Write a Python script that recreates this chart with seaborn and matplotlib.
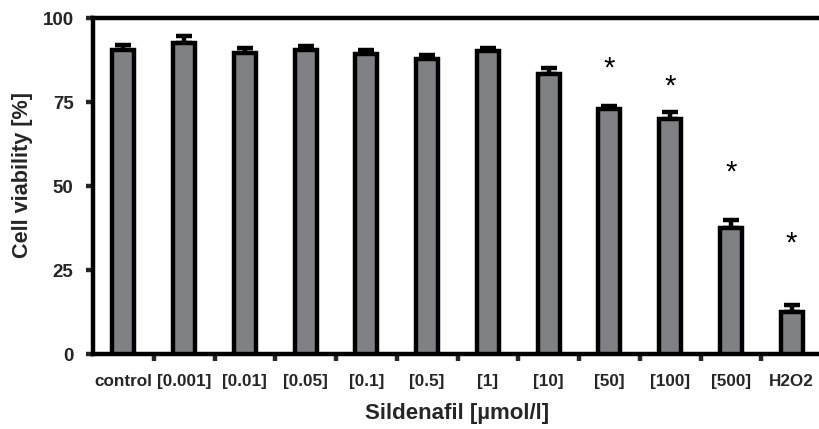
import matplotlib
matplotlib.use("Agg")
import matplotlib.pyplot as plt
import seaborn as sns
import numpy as np
import pandas as pd
from matplotlib.ticker import FixedLocator

categories = ["control", "[0.001]", "[0.01]", "[0.05]", "[0.1]", "[0.5]",
              "[1]", "[10]", "[50]", "[100]", "[500]", "H2O2"]
viability = [90.7, 92.7, 89.8, 90.7, 89.3, 87.8, 90.3, 83.3, 73.1, 70.1, 37.5, 12.7]
sem = [1.5, 2.0, 1.4, 1.0, 1.4, 1.4, 1.0, 2.0, 0.9, 2.0, 2.6, 2.0]
significant = [False, False, False, False, False, False, False, False, True, True, True, True]
yticks = [0, 25, 50, 75, 100]

df = pd.DataFrame({"cat": categories, "val": viability})

sns.set_style("ticks")
plt.rcParams["font.family"] = ["Liberation Sans", "DejaVu Sans"]

W, H = 819, 429
fig = plt.figure(figsize=(W / 100, H / 100), dpi=100)
ax = fig.add_axes([93 / W, 1 - 354.3 / H, (822 - 93) / W, (354.3 - 18.3) / H])

lw = 3.2
sns.barplot(data=df, x="cat", y="val", ax=ax, color="#808185", saturation=1,
            width=0.36, edgecolor="black", linewidth=lw, errorbar=None, zorder=3)

x = np.arange(len(categories))
ax.errorbar(x, viability, yerr=[np.zeros(len(sem)), sem], fmt="none",
            ecolor="black", elinewidth=lw, capsize=5.6, capthick=lw, zorder=2)

star_offset = {8: 11.0, 9: 7.6, 10: 13.9, 11: 18.4}
for i, s in enumerate(significant):
    if s:
        y = viability[i] + sem[i] + star_offset.get(i, 11)
        ax.text(i, y, "*", ha="center", va="center", fontsize=21,
                fontweight="normal", color="black")

ax.set_ylim(0, 100)
ax.set_xlim(-0.5, len(categories) - 0.5)
ax.set_yticks(yticks)
ax.set_yticklabels([str(t) for t in yticks], fontsize=13.5, fontweight="bold")
ax.set_xticks(x)
ax.set_xticklabels(categories, fontsize=12.3, fontweight="bold")
ax.tick_params(axis="x", which="major", length=0, pad=14)
ax.xaxis.set_minor_locator(FixedLocator(np.arange(0.5, len(categories) - 0.5, 1.0)))
ax.tick_params(axis="x", which="minor", length=5, width=lw, direction="out")
ax.tick_params(axis="y", length=5, width=lw, direction="out", pad=9)

for side in ["left", "bottom", "top", "right"]:
    ax.spines[side].set_linewidth(lw)
    ax.spines[side].set_color("black")
    ax.spines[side].set_visible(True)

ax.set_xlabel("Sildenafil [µmol/l]", fontsize=16, fontweight="bold", labelpad=10)
ax.set_ylabel("Cell viability [%]", fontsize=15.6, fontweight="bold")
ax.yaxis.set_label_coords(-60 / (822 - 93), (354.3 - 175) / (354.3 - 18.3))

fig.savefig("out.png", dpi=100)
